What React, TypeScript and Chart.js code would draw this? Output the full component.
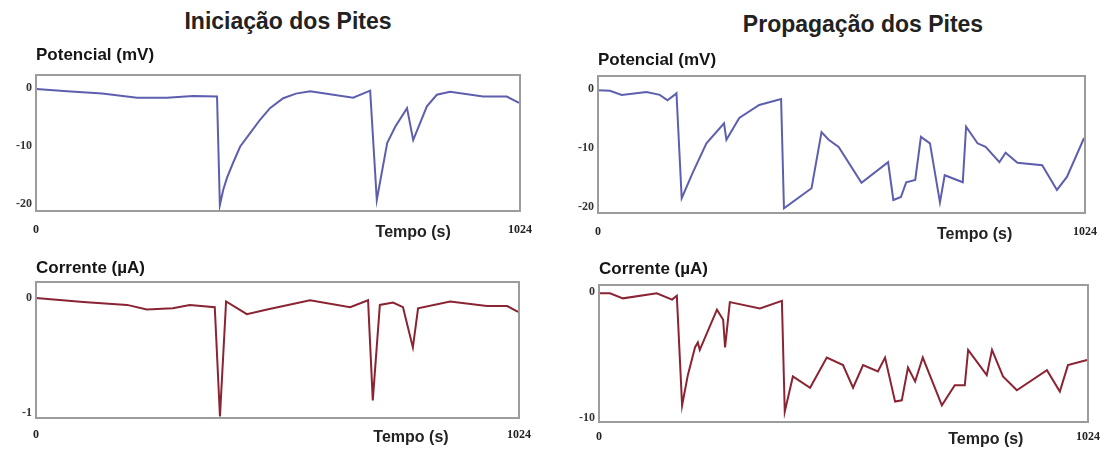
import React, { useEffect, useRef } from "react";
import { Chart, registerables } from "chart.js";
Chart.register(...registerables);

// Iniciação — Potencial (mV)
const initPotTime = [0, 66, 140, 214, 277, 332, 383, 389, 396, 404, 417, 432, 453, 474, 495, 523, 550, 580, 671, 707, 721, 743, 760, 785, 798, 827, 848, 876, 946, 996, 1022];
const initPotValue = [-0.2, -0.6, -1.0, -1.7, -1.7, -1.4, -1.5, -20.2, -17.6, -15.5, -12.9, -10.1, -7.8, -5.5, -3.5, -1.8, -1.0, -0.6, -1.7, -0.5, -19.3, -9.5, -6.7, -3.5, -9.0, -3.2, -1.2, -0.7, -1.5, -1.5, -2.6];

// Propagação — Potencial (mV)
const propPotTime = [0, 25, 50, 102, 130, 146, 161, 165, 176, 199, 228, 265, 270, 297, 339, 385, 391, 449, 470, 485, 506, 554, 610, 621, 637, 648, 667, 679, 698, 719, 729, 767, 774, 798, 815, 844, 857, 882, 934, 965, 986, 1022];
const propPotValue = [-0.2, -0.3, -1.0, -0.5, -1.0, -1.9, -1.0, -0.7, -18.5, -14.2, -9.2, -5.8, -8.6, -4.9, -2.7, -1.7, -20.2, -16.8, -7.3, -8.6, -9.8, -15.9, -12.4, -18.8, -18.3, -15.8, -15.4, -8.1, -9.2, -19.2, -14.6, -15.8, -6.4, -9.2, -9.8, -12.4, -10.8, -12.5, -12.9, -17.1, -14.9, -8.3];

// Iniciação — Corrente (µA)
const initCurTime = [0, 100, 193, 235, 290, 326, 379, 390, 403, 447, 490, 581, 666, 704, 714, 729, 757, 778, 799, 810, 878, 956, 999, 1022];
const initCurValue = [0, -0.035, -0.06, -0.1, -0.09, -0.06, -0.08, -1.03, -0.03, -0.14, -0.1, -0.02, -0.08, -0.02, -0.89, -0.06, -0.04, -0.08, -0.43, -0.09, -0.03, -0.07, -0.07, -0.12];

// Propagação — Corrente (µA)
const propCurTime = [0, 23, 50, 121, 153, 163, 174, 186, 201, 207, 211, 247, 260, 264, 274, 337, 383, 389, 406, 442, 477, 511, 532, 553, 584, 599, 620, 634, 647, 662, 678, 718, 745, 766, 773, 812, 823, 846, 875, 938, 965, 982, 1022];
const propCurValue = [-0.1, -0.1, -0.5, -0.1, -0.6, -0.3, -9.0, -6.6, -4.4, -4.0, -4.6, -1.4, -2.2, -4.4, -0.8, -1.3, -0.7, -9.5, -6.7, -7.6, -5.2, -5.8, -7.6, -5.8, -6.3, -5.2, -8.7, -8.6, -6.0, -7.1, -5.2, -9.0, -7.4, -7.4, -4.6, -6.6, -4.6, -6.7, -7.8, -6.2, -7.9, -5.8, -5.4];

const potTicks = [-20, -10, 0];
const initCurTicks = [-1, 0];
const propCurTicks = [-10, 0];
const xTickEnds = [0, 1024];

const POT_COLOR = "#5d5fae";
const CUR_COLOR = "#8a2433";

const boxPlugin = {
  id: "boxFrame",
  afterDatasetsDraw(chart: any) {
    const { ctx, chartArea } = chart;
    ctx.save();
    ctx.strokeStyle = "#9c9c9c";
    ctx.lineWidth = 2;
    ctx.strokeRect(chartArea.left, chartArea.top, chartArea.right - chartArea.left, chartArea.bottom - chartArea.top);
    ctx.restore();
  },
};

type PanelProps = {
  left: number; top: number; width: number; height: number;
  box: [number, number, number, number];
  titleY: number; label: string;
  time: number[]; values: number[]; color: string;
  yMin: number; yMax: number; yTicks: number[];
  tempoAt: number; xPad: number;
};

function Panel(p: PanelProps) {
  const ref = useRef<HTMLCanvasElement>(null);
  useEffect(() => {
    const fs = 17;
    const lh = fs * 1.2;
    const ptop = p.titleY - p.top - lh / 2;
    const pbot = p.box[1] - p.top - ptop - lh;
    const chart = new Chart(ref.current as HTMLCanvasElement, {
      type: "line",
      data: {
        datasets: [{
          data: p.time.map((x, i) => ({ x, y: p.values[i] })),
          borderColor: p.color, borderWidth: 2, pointRadius: 0, tension: 0, fill: false,
        }],
      },
      options: {
        animation: false, responsive: false, maintainAspectRatio: false,
        layout: { padding: { left: 0, top: 0, right: p.left + p.width - p.box[2], bottom: 0 } },
        plugins: {
          legend: { display: false }, tooltip: { enabled: false },
          title: {
            display: true, text: p.label, align: "start", fullSize: false, color: "#151515",
            font: { family: "Liberation Sans", size: fs, weight: "bold", lineHeight: 1.2 },
            padding: { top: ptop, bottom: pbot },
          },
        },
        scales: {
          x: {
            type: "linear", min: 0, max: 1024,
            grid: { display: false, drawTicks: false }, border: { display: false },
            afterBuildTicks: (s: any) => { s.ticks = [{ value: xTickEnds[0] }, { value: p.tempoAt }, { value: xTickEnds[1] }]; },
            afterFit: (s: any) => { s.height = p.top + p.height - p.box[3]; },
            ticks: {
              padding: p.xPad, autoSkip: false, maxRotation: 0, color: "#222",
              callback: (v: any) => (v === p.tempoAt ? "Tempo (s)" : String(v)),
              font: (ctx: any) => ctx.tick && ctx.tick.value === p.tempoAt
                ? { family: "Liberation Sans", size: 16, weight: "bold" }
                : { family: "Liberation Serif", size: 12, weight: "bold" },
            },
          },
          y: {
            type: "linear", min: p.yMin, max: p.yMax,
            grid: { display: false, drawTicks: false }, border: { display: false },
            afterBuildTicks: (s: any) => { s.ticks = p.yTicks.map((v) => ({ value: v })); },
            afterFit: (s: any) => { s.width = p.box[0] - p.left; },
            ticks: {
              padding: 4, color: "#333",
              callback: (v: any) => String(v),
              font: { family: "Liberation Serif", size: 12, weight: "bold" },
            },
          },
        },
      } as any,
      plugins: [boxPlugin],
    });
    return () => chart.destroy();
  }, []);
  return (
    <div style={{ position: "absolute", left: p.left, top: p.top, width: p.width, height: p.height }}>
      <canvas ref={ref} width={p.width} height={p.height} style={{ width: p.width, height: p.height, display: "block" }} />
    </div>
  );
}

const headStyle: React.CSSProperties = {
  position: "absolute", width: 400, textAlign: "center", fontFamily: "Liberation Sans, Arial, sans-serif",
  fontWeight: "bold", fontSize: 23, lineHeight: "24px", color: "#222",
};

export default function App() {
  return (
    <div style={{ position: "absolute", left: 0, top: 0, width: 1109, height: 449, background: "#fff", overflow: "hidden" }}>
      <div style={{ ...headStyle, left: 288 - 200, top: 9 }}>Iniciação dos Pites</div>
      <div style={{ ...headStyle, left: 863 - 200, top: 12 }}>Propagação dos Pites</div>
      <Panel left={0} top={40} width={545} height={205} box={[36, 75, 520, 211]} titleY={55}
        label="Potencial (mV)" time={initPotTime} values={initPotValue} color={POT_COLOR}
        yMin={-21.2} yMax={2.2} yTicks={potTicks} tempoAt={798} xPad={12} />
      <Panel left={555} top={40} width={554} height={207} box={[598, 76, 1088, 213]} titleY={60}
        label="Potencial (mV)" time={propPotTime} values={propPotValue} color={POT_COLOR}
        yMin={-21.0} yMax={2.2} yTicks={potTicks} tempoAt={792} xPad={12} />
      <Panel left={0} top={250} width={545} height={199} box={[36, 282, 519, 418]} titleY={268}
        label="Corrente (µA)" time={initCurTime} values={initCurValue} color={CUR_COLOR}
        yMin={-1.043} yMax={0.139} yTicks={initCurTicks} tempoAt={795} xPad={10} />
      <Panel left={555} top={250} width={554} height={199} box={[599, 285, 1088, 422]} titleY={269}
        label="Corrente (µA)" time={propCurTime} values={propCurValue} color={CUR_COLOR}
        yMin={-10.32} yMax={0.56} yTicks={propCurTicks} tempoAt={810} xPad={8} />
    </div>
  );
}
